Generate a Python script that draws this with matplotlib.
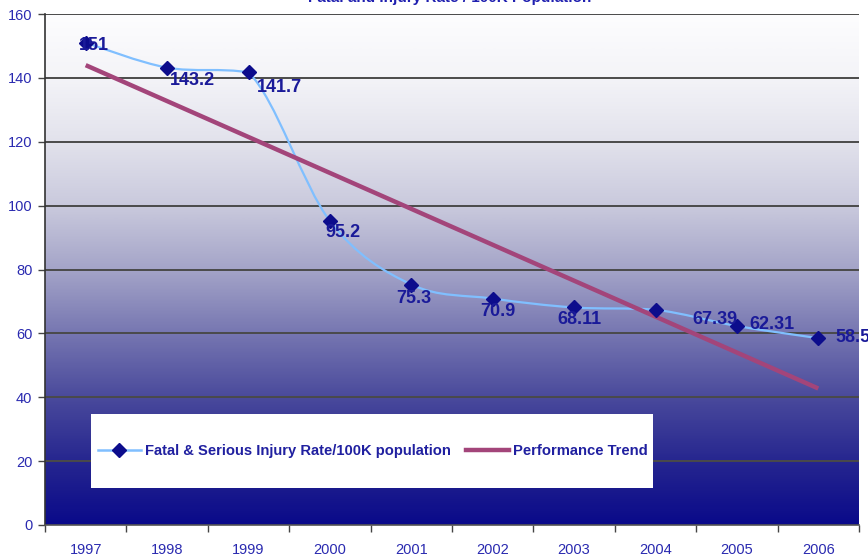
import numpy as np
import matplotlib
matplotlib.use("Agg")
import matplotlib.pyplot as plt
from matplotlib.path import Path
from matplotlib.patches import PathPatch, Rectangle
from matplotlib.lines import Line2D
from matplotlib.colors import LinearSegmentedColormap

# ---- data ----
years = ["1997", "1998", "1999", "2000", "2001", "2002", "2003", "2004", "2005", "2006"]
rate = [151, 143.2, 141.7, 95.2, 75.3, 70.9, 68.11, 67.39, 62.31, 58.5]
rate_labels = ["151", "143.2", "141.7", "95.2", "75.3", "70.9", "68.11", "67.39", "62.31", "58.5"]
y_ticks = [0, 20, 40, 60, 80, 100, 120, 140, 160]
title = "Fatal and Injury Rate / 100K Population"
series_name = "Fatal & Serious Injury Rate/100K population"
trend_name = "Performance Trend"

plt.rcParams['font.family'] = ['Liberation Sans', 'DejaVu Sans']

W, H = 868, 558
fig = plt.figure(figsize=(W / 100, H / 100), dpi=100)
fig.patch.set_facecolor('white')

left, right, top, bottom = 45, 859, 14, 525
ax = fig.add_axes([left / W, (H - bottom) / H, (right - left) / W, (bottom - top) / H])

x = np.arange(len(years))
ax.set_xlim(-0.5, len(years) - 0.5)
ax.set_ylim(0, 160)

# gradient background
cmap = LinearSegmentedColormap.from_list('bg', [
    (0.0, '#0a0a8a'), (0.12, '#25258f'), (0.25, '#4a4a9c'), (0.38, '#7878b2'),
    (0.5, '#a4a4c8'), (0.62, '#c8c8dc'), (0.75, '#e2e2ec'), (0.88, '#f4f4f8'), (1.0, '#fdfdfe')])
grad = np.linspace(0, 1, 512).reshape(-1, 1)
ax.imshow(grad, extent=(-0.5, len(years) - 0.5, 0, 160), origin='lower', aspect='auto',
          cmap=cmap, zorder=0, interpolation='bilinear')

# grid
for v in y_ticks[1:]:
    ax.axhline(v, color='#4a4a4a', lw=1.4, zorder=1)

# smooth series line (Bezier, control points kept within each segment's range)
pts = np.column_stack([x, rate]).astype(float)
verts = [tuple(pts[0])]
codes = [Path.MOVETO]
n = len(pts)
for i in range(n - 1):
    p0 = pts[i - 1] if i > 0 else pts[i]
    p1 = pts[i]
    p2 = pts[i + 1]
    p3 = pts[i + 2] if i + 2 < n else pts[i + 1]
    c1 = p1 + (p2 - p0) / 6.0
    c2 = p2 - (p3 - p1) / 6.0
    lo, hi = min(p1[1], p2[1]), max(p1[1], p2[1])
    c1[1] = np.clip(c1[1], lo, hi)
    c2[1] = np.clip(c2[1], lo, hi)
    verts += [tuple(c1), tuple(c2), tuple(p2)]
    codes += [Path.CURVE4] * 3
ax.add_patch(PathPatch(Path(verts, codes), fill=False, edgecolor='#80bfff', lw=1.6, zorder=3))
ax.plot(x, rate, linestyle='none', marker='D', markersize=7, color='#0c0c8c', zorder=5)

# trend line (least squares)
coef = np.polyfit(x, rate, 1)
ax.plot(x, np.polyval(coef, x), color='#a3457a', lw=3.2, zorder=4, solid_capstyle='butt')

# data labels
offsets = [(8, -3), (25, -13), (31, -15), (13, -12), (3, -14), (5, -13), (5, -12), (59, -10), (35, 1), (35, 1)]
for xi, yi, lab, (dx, dy) in zip(x, rate, rate_labels, offsets):
    ax.annotate(lab, (xi, yi), xytext=(dx, dy), textcoords='offset pixels',
                ha='center', va='center', fontsize=13, fontweight='bold', color='#1a1a99',
                zorder=6, annotation_clip=False)

# axes styling
ax.set_yticks(y_ticks)
ax.set_yticklabels([str(v) for v in y_ticks], fontsize=10.5, color='#2a2ab0')
ax.set_xticks(x)
ax.set_xticklabels(years, fontsize=10.5, color='#2a2ab0')
ax.tick_params(axis='x', length=0, pad=13)
ax.set_xticks(np.arange(-0.5, len(years)), minor=True)
ax.tick_params(axis='x', which='minor', length=5, color='#444444', width=1)
ax.tick_params(axis='y', length=5, color='#444444', width=1, pad=4)
for s in ['top', 'right']:
    ax.spines[s].set_visible(False)
ax.spines['left'].set_color('#333333')
ax.spines['left'].set_linewidth(1.2)
ax.spines['bottom'].set_color('#555555')
ax.spines['bottom'].set_linewidth(1.2)

# legend
fig.patches.append(Rectangle((91 / W, (H - 488) / H), (653 - 91) / W, (488 - 414) / H,
                             transform=fig.transFigure, facecolor='white', edgecolor='none', zorder=8))
handles = [Line2D([], [], color='#80bfff', lw=1.8, marker='D', markersize=7,
                  markerfacecolor='#0c0c8c', markeredgecolor='#0c0c8c'),
           Line2D([], [], color='#a3457a', lw=3.2)]
leg = fig.legend(handles, [series_name, trend_name], loc='center',
                 bbox_to_anchor=(373 / W, (H - 451) / H), ncol=2, frameon=False,
                 prop={'size': 10.6, 'weight': 'bold'}, handlelength=2.9, handletextpad=0.3,
                 columnspacing=1.05)
leg.set_zorder(9)
for t in leg.get_texts():
    t.set_color('#2020a0')

# title (cut off at the top, as in the source)
fig.text(450 / W, 1 - 2 / H, title, ha='center', va='baseline', fontsize=11,
         fontweight='bold', color='#2020b0')

fig.savefig('out.png', dpi=100)
